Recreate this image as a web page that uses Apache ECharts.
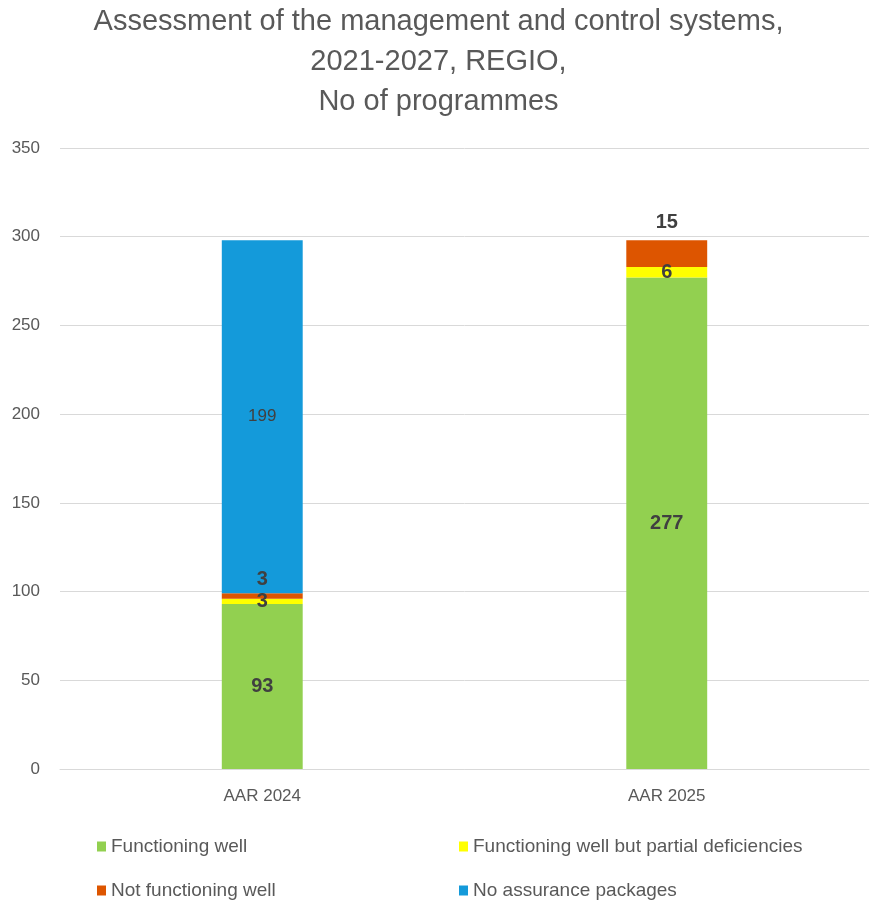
<!DOCTYPE html>
<html>
<head>
<meta charset="utf-8">
<script src="https://cdn.jsdelivr.net/npm/echarts@6/dist/echarts.min.js"></script>
<style>
  html, body { margin: 0; padding: 0; background: #fff; }
  #chart { width: 877px; height: 900px; }
</style>
</head>
<body>
<div id="chart"></div>
<script>
// categories and series values
const categories = ['AAR 2024', 'AAR 2025']
const functioningWell = [93, 277]
const partialDeficiencies = [3, 6]
const notFunctioningWell = [3, 15]
const noAssurance = [199, 0]
const yTicks = [0, 50, 100, 150, 200, 250, 300, 350]

const seriesNames = [
  'Functioning well',
  'Functioning well but partial deficiencies',
  'Not functioning well',
  'No assurance packages'
]

const font = '"Liberation Sans Narrow", "Liberation Sans", sans-serif'
const boldLabel = { fontSize: 20, fontWeight: 'bold', color: '#404040', fontFamily: 'Liberation Sans, sans-serif' }

const chart = echarts.init(document.getElementById('chart'))

// one legend per item so the 2x2 layout matches
const legendItem = (name, left, top) => ({
  data: [name],
  left: left,
  top: top,
  itemWidth: 9,
  itemHeight: 10,
  icon: 'rect',
  selectedMode: false,
  textStyle: { fontSize: 19, color: '#595959', fontFamily: font }
})

const option = {
  animation: false,
  title: {
    text: 'Assessment of the management and control systems,\n2021-2027, REGIO,\nNo of programmes',
    left: 'center',
    top: -3,
    textStyle: {
      fontSize: 29,
      fontWeight: 'normal',
      color: '#595959',
      lineHeight: 40,
      fontFamily: font
    }
  },
  legend: [
    legendItem(seriesNames[0], 92, 832),
    legendItem(seriesNames[1], 454, 832),
    legendItem(seriesNames[2], 92, 876),
    legendItem(seriesNames[3], 454, 876)
  ],
  grid: { left: 60, right: 8, top: 148, bottom: 131 },
  xAxis: {
    type: 'category',
    data: categories,
    axisTick: { show: false },
    axisLine: { lineStyle: { color: '#d9d9d9' } },
    axisLabel: { fontSize: 17, color: '#595959', margin: 19, fontFamily: 'Liberation Sans, sans-serif' }
  },
  yAxis: {
    type: 'value',
    min: yTicks[0],
    max: yTicks[yTicks.length - 1],
    interval: 50,
    axisLine: { show: false },
    axisTick: { show: false },
    axisLabel: { fontSize: 17, color: '#595959', margin: 20, fontFamily: 'Liberation Sans, sans-serif' },
    splitLine: { lineStyle: { color: '#d9d9d9' } }
  },
  series: [
    {
      name: seriesNames[0],
      type: 'bar',
      stack: 'total',
      barWidth: '20%',
      itemStyle: { color: '#92D050' },
      label: { show: true, position: 'inside', ...boldLabel },
      data: functioningWell
    },
    {
      name: seriesNames[1],
      type: 'bar',
      stack: 'total',
      itemStyle: { color: '#FFFF00' },
      label: { show: true, position: 'inside', ...boldLabel },
      data: partialDeficiencies
    },
    {
      name: seriesNames[2],
      type: 'bar',
      stack: 'total',
      itemStyle: { color: '#DD5500' },
      label: { show: true, ...boldLabel },
      data: [
        { value: notFunctioningWell[0], label: { position: 'inside', offset: [0, -17] } },
        { value: notFunctioningWell[1], label: { position: 'top', distance: 8 } }
      ]
    },
    {
      name: seriesNames[3],
      type: 'bar',
      stack: 'total',
      itemStyle: { color: '#149ADA' },
      label: {
        show: true,
        position: 'inside',
        fontSize: 17,
        color: '#404040',
        fontFamily: 'Liberation Sans, sans-serif',
        formatter: (p) => (p.value ? p.value : '')
      },
      data: noAssurance
    }
  ]
}

chart.setOption(option)
</script>
</body>
</html>
